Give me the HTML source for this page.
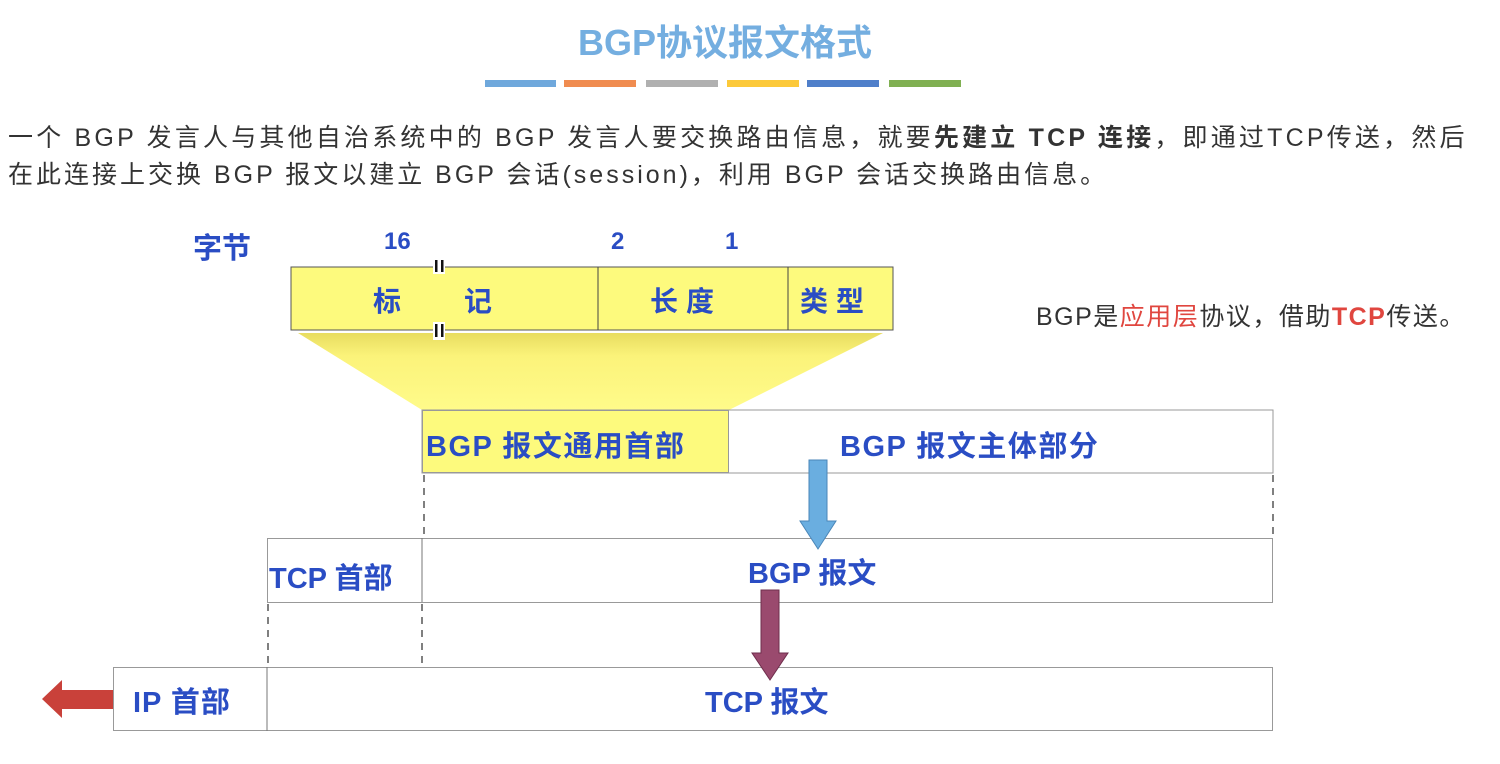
<!DOCTYPE html>
<html><head><meta charset="utf-8"><style>
body{margin:0;width:1500px;height:764px;background:#fff;position:relative;overflow:hidden;font-family:"Liberation Sans","Noto Sans CJK SC",sans-serif}
.a{position:absolute;white-space:nowrap}
.b{color:#2a4dc4;font-weight:bold}
</style></head><body>
<div class="a" style="left:0;top:14px;width:1450px;text-align:center;font-size:36px;font-weight:bold;color:#74aee0">BGP协议报文格式</div>
<div class="a" style="left:485px;top:80px;width:71px;height:7px;background:#6fa8dc"></div>
<div class="a" style="left:564px;top:80px;width:72px;height:7px;background:#f08c50"></div>
<div class="a" style="left:646px;top:80px;width:72px;height:7px;background:#b0b0b0"></div>
<div class="a" style="left:727px;top:80px;width:72px;height:7px;background:#fcc93a"></div>
<div class="a" style="left:807px;top:80px;width:72px;height:7px;background:#4f7fca"></div>
<div class="a" style="left:889px;top:80px;width:72px;height:7px;background:#80b052"></div>
<div class="a" style="left:8px;top:118px;font-size:25px;letter-spacing:3.2px;color:#333">一个 BGP 发言人与其他自治系统中的 BGP 发言人要交换路由信息，就要<b>先建立 TCP 连接</b>，即通过TCP传送，然后</div>
<div class="a" style="left:8px;top:155px;font-size:25px;letter-spacing:3px;color:#333">在此连接上交换 BGP 报文以建立 BGP 会话(session)，利用 BGP 会话交换路由信息。</div>
<div class="a" style="left:1036px;top:297px;font-size:25px;letter-spacing:1.5px;color:#333">BGP是<span style="color:#e0463f">应用层</span>协议，借助<b style="color:#e0463f">TCP</b>传送。</div>
<svg class="a" style="left:0;top:0" width="1500" height="764">
<defs><linearGradient id="g" x1="0" y1="0" x2="0" y2="1"><stop offset="0" stop-color="#e8dc60"/><stop offset="0.3" stop-color="#fbf37a"/><stop offset="1" stop-color="#fffb8a"/></linearGradient></defs>
<polygon points="298,333 883,333 729,410 422,410" fill="url(#g)"/>
<rect x="291" y="267" width="602" height="63" fill="#fdfa7d" stroke="#555" stroke-width="1"/>
<line x1="598" y1="267" x2="598" y2="330" stroke="#444"/>
<line x1="788" y1="267" x2="788" y2="330" stroke="#444"/>
<rect x="433" y="258" width="12" height="16" fill="#fff"/><rect x="435" y="260" width="2.5" height="12" fill="#111"/><rect x="441" y="260" width="2.5" height="12" fill="#111"/>
<rect x="433" y="322" width="12" height="18" fill="#fff"/><rect x="435" y="324" width="2.5" height="13" fill="#111"/><rect x="441" y="324" width="2.5" height="13" fill="#111"/>
<rect x="422" y="410" width="851" height="63" fill="#fff" stroke="#999"/>
<rect x="422.5" y="410.5" width="306" height="62" fill="#fdfa7d" stroke="#999"/>
<line x1="424" y1="475" x2="424" y2="538" stroke="#000" stroke-dasharray="7,6"/>
<line x1="1273" y1="475" x2="1273" y2="538" stroke="#000" stroke-dasharray="7,6"/>
<rect x="267.5" y="538.5" width="1005" height="64" fill="#fff" stroke="#999"/>
<line x1="422" y1="538" x2="422" y2="602" stroke="#777"/>
<line x1="268" y1="604" x2="268" y2="667" stroke="#000" stroke-dasharray="7,6"/>
<line x1="422" y1="604" x2="422" y2="667" stroke="#000" stroke-dasharray="7,6"/>
<rect x="113.5" y="667.5" width="1159" height="63" fill="#fff" stroke="#999"/>
<line x1="267" y1="667" x2="267" y2="731" stroke="#777"/>
<polygon points="809,460 827,460 827,521 836,521 818,549 800,521 809,521" fill="#6aaee0" stroke="#4a86b8"/>
<polygon points="761,590 779,590 779,653 788,653 770,680 752,653 761,653" fill="#9a4a6e" stroke="#6e2e4c"/>
<polygon points="113,690 62,690 62,680 42,699 62,718 62,709 113,709" fill="#c9413a"/>
</svg>
<div class="a b" style="left:193px;top:225px;font-size:29px">字节</div>
<div class="a b" style="left:384px;top:228px;font-size:24px">16</div>
<div class="a b" style="left:611px;top:228px;font-size:24px">2</div>
<div class="a b" style="left:725px;top:228px;font-size:24px">1</div>
<div class="a b" style="left:373px;top:280px;font-size:28px">标</div>
<div class="a b" style="left:464px;top:280px;font-size:28px">记</div>
<div class="a b" style="left:650px;top:280px;font-size:28px;letter-spacing:8px">长度</div>
<div class="a b" style="left:800px;top:280px;font-size:28px;letter-spacing:8px">类型</div>
<div class="a b" style="left:426px;top:423px;font-size:29px;letter-spacing:1.5px">BGP 报文通用首部</div>
<div class="a b" style="left:840px;top:423px;font-size:29px;letter-spacing:1.5px">BGP 报文主体部分</div>
<div class="a b" style="left:269px;top:555px;font-size:29px">TCP 首部</div>
<div class="a b" style="left:748px;top:550px;font-size:29px">BGP 报文</div>
<div class="a b" style="left:133px;top:679px;font-size:29px;letter-spacing:1px">IP 首部</div>
<div class="a b" style="left:705px;top:679px;font-size:29px">TCP 报文</div>
</body></html>
